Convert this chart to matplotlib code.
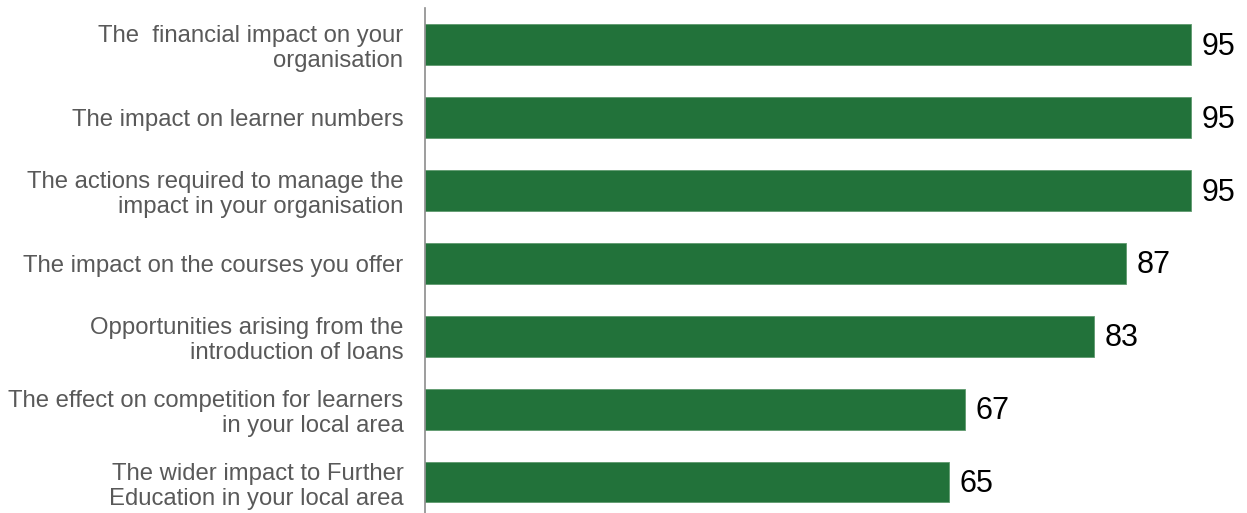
import matplotlib
matplotlib.use("Agg")
import matplotlib.pyplot as plt

# Data
categories = [
    "The  financial impact on your\norganisation",
    "The impact on learner numbers",
    "The actions required to manage the\nimpact in your organisation",
    "The impact on the courses you offer",
    "Opportunities arising from the\nintroduction of loans",
    "The effect on competition for learners\nin your local area",
    "The wider impact to Further\nEducation in your local area",
]
values = [95, 95, 95, 87, 83, 67, 65]

plt.rcParams['font.family'] = ['Liberation Sans', 'DejaVu Sans']

W, H = 1247, 513
fig = plt.figure(figsize=(W / 100, H / 100), dpi=100)
left = 425 / W
top = 8
bottom = 518.5
ax = fig.add_axes([left, 1 - bottom / H, 806 / W, (bottom - top) / H])

ypos = list(range(len(values)))
ax.barh(ypos, values, height=0.56, color='#22723A', edgecolor='#5e9a6e', linewidth=0.6)
ax.set_ylim(len(values) - 0.5, -0.5)
ax.set_xlim(0, 100)

for y, v in zip(ypos, values):
    ax.text(v + 1.3, y + 0.03, str(v), va='center', ha='left', fontsize=22, color='black')

ax.set_yticks(ypos)
ax.set_yticklabels(categories, fontsize=17.2, color='#595959', linespacing=1.2)
ax.tick_params(axis='y', length=0, pad=15.5)
ax.set_xticks([])
for s in ['top', 'right', 'bottom']:
    ax.spines[s].set_visible(False)
ax.spines['left'].set_color('#8c8c8c')
ax.spines['left'].set_linewidth(1.2)

fig.savefig('out.png', dpi=100)
